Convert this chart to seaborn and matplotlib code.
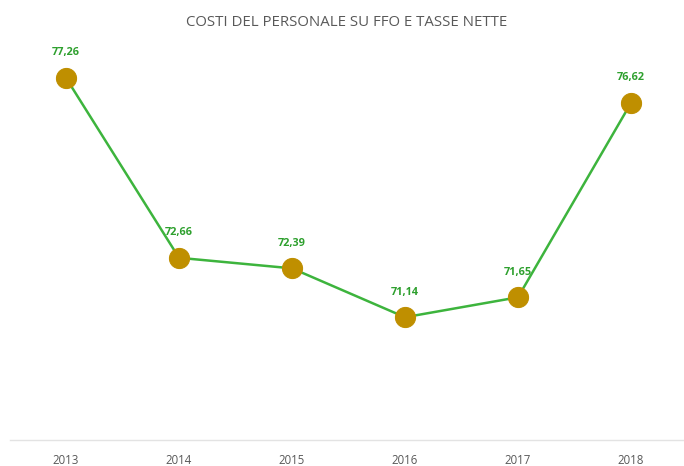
import matplotlib
matplotlib.use("Agg")
import matplotlib.pyplot as plt
import seaborn as sns
import pandas as pd

years = ["2013", "2014", "2015", "2016", "2017", "2018"]
values = [77.26, 72.66, 72.39, 71.14, 71.65, 76.62]
labels = ["77,26", "72,66", "72,39", "71,14", "71,65", "76,62"]
title = "COSTI DEL PERSONALE SU FFO E TASSE NETTE"

sns.set_style("white")
plt.rcParams['font.family'] = ['Open Sans', 'DejaVu Sans']

df = pd.DataFrame({"year": years, "value": values, "x": range(len(years))})

fig = plt.figure(figsize=(6.84, 4.66), dpi=100)
ax = fig.add_axes([9.5/684, 26/466, 678/684, 391/466])

sns.lineplot(data=df, x="x", y="value", ax=ax, color="#3DB43D", linewidth=1.8,
             marker="o", markersize=14.5, markerfacecolor="#BF8F00",
             markeredgecolor="#BF8F00", zorder=3)

for i, (v, lab) in enumerate(zip(values, labels)):
    ax.annotate(lab, xy=(i, v), xytext=(0, 18), textcoords="offset points",
                ha="center", va="center", color="#2EA02E", fontsize=7.8,
                fontweight="bold")

ax.set_xlim(-0.5, 5.5)
ax.set_ylim(68, 78)
ax.set_xticks(range(len(years)))
ax.set_xticklabels(years, fontsize=8.3, color="#595959")
ax.set_yticks([])
ax.set_xlabel("")
ax.set_ylabel("")
ax.tick_params(axis="x", length=0, pad=10)
for s in ["top", "right", "left"]:
    ax.spines[s].set_visible(False)
ax.spines["bottom"].set_color("#E3E3E3")
ax.spines["bottom"].set_linewidth(1)

fig.text(347/684, 1 - 22/466, title, ha="center", va="center",
         fontsize=10.8, color="#595959")

fig.savefig("out.png", dpi=100, facecolor="white")
